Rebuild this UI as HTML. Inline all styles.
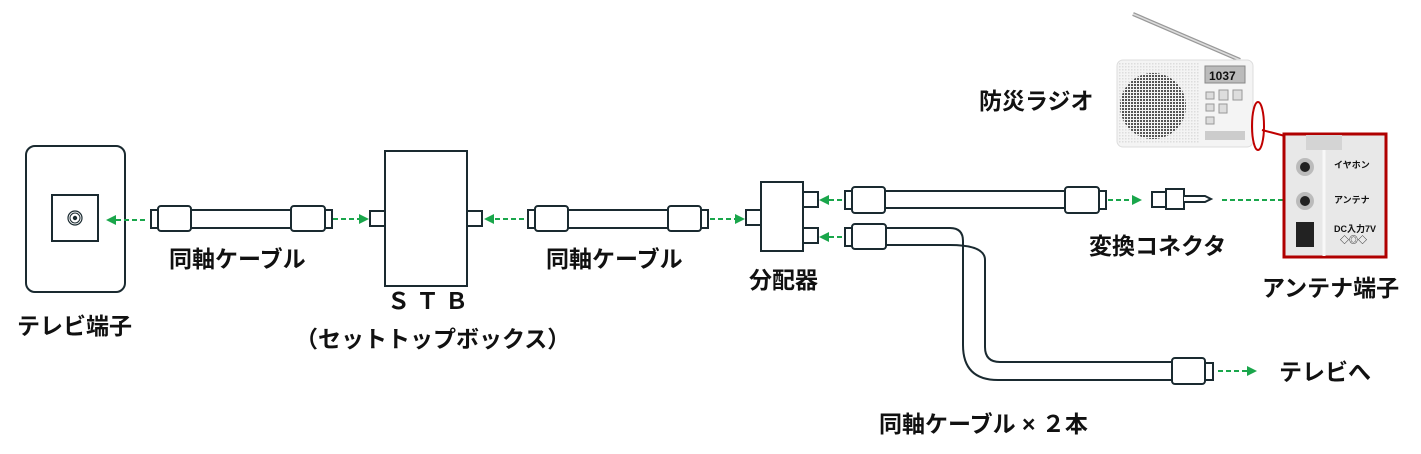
<!DOCTYPE html>
<html><head><meta charset="utf-8"><style>
html,body{margin:0;padding:0;background:#fff;}
svg{display:block;}
text{font-family:"Liberation Sans","Noto Sans CJK JP",sans-serif;font-weight:bold;fill:#111;}
</style></head><body>
<svg width="1421" height="454" viewBox="0 0 1421 454" xmlns="http://www.w3.org/2000/svg">
<defs>
<marker id="ar" markerWidth="5" markerHeight="5" refX="4" refY="2.5" orient="auto"><path d="M0,0 L5,2.5 L0,5 z" fill="#1aa64b"/></marker>
<pattern id="dots" width="3" height="3" patternUnits="userSpaceOnUse"><rect width="2" height="2" fill="#555"/></pattern>
<pattern id="dots2" width="3" height="3" patternUnits="userSpaceOnUse"><rect width="1.5" height="1.5" fill="#ddd"/></pattern>
</defs>
<g stroke="#1a2a30" stroke-width="2" fill="#fff">
<rect x="26" y="146" width="99" height="146" rx="9"/>
<rect x="52" y="195" width="46" height="46"/>
<circle cx="75" cy="218" r="7" stroke-width="1.2"/>
<circle cx="75" cy="218" r="5" stroke-width="1"/>
<circle cx="75" cy="218" r="1.2" fill="#111"/>
<rect x="151" y="210" width="8" height="18"/>
<rect x="191" y="210" width="100" height="18"/>
<rect x="158" y="206" width="33" height="25" rx="3"/>
<rect x="291" y="206" width="34" height="25" rx="3"/>
<rect x="325" y="210" width="7" height="18"/>
<rect x="370" y="211" width="15" height="15"/>
<rect x="467" y="211" width="15" height="15"/>
<rect x="385" y="151" width="82" height="135"/>
<rect x="528" y="210" width="8" height="18"/>
<rect x="568" y="210" width="100" height="18"/>
<rect x="535" y="206" width="33" height="25" rx="3"/>
<rect x="668" y="206" width="33" height="25" rx="3"/>
<rect x="701" y="210" width="7" height="18"/>
<rect x="746" y="210" width="15" height="15"/>
<rect x="803" y="192" width="15" height="15"/>
<rect x="803" y="228" width="15" height="15"/>
<rect x="761" y="182" width="42" height="69"/>
<rect x="845" y="191" width="8" height="18"/>
<rect x="885" y="191" width="180" height="17"/>
<rect x="852" y="187" width="33" height="26" rx="3"/>
<rect x="1065" y="187" width="34" height="26" rx="3"/>
<rect x="1099" y="191" width="7" height="18"/>
<rect x="1152" y="192" width="14" height="15"/>
<rect x="1166" y="189" width="18" height="20"/>
<path d="M1184,196 L1205,196 L1211,199 L1205,202 L1184,202" fill="#fff"/>
<path d="M886,228 L950,228 Q963,228 963,241 L963,345 Q963,380 998,380 L1172,380 L1172,362 L1000,362 Q985,362 985,347 L985,260 Q985,245 950,245 L886,245" />
<rect x="845" y="228" width="8" height="18"/>
<rect x="852" y="224" width="34" height="25" rx="3"/>
<rect x="1205" y="363" width="8" height="17"/>
<rect x="1172" y="358" width="33" height="26" rx="3"/>
</g>
<g stroke="#1aa64b" stroke-width="2" stroke-dasharray="5,3" fill="none" marker-end="url(#ar)">
<line x1="145" y1="220" x2="108" y2="220"/>
<line x1="333" y1="219" x2="367" y2="219"/>
<line x1="524" y1="219" x2="486" y2="219"/>
<line x1="710" y1="219" x2="743" y2="219"/>
<line x1="842" y1="200" x2="821" y2="200"/>
<line x1="842" y1="237" x2="821" y2="237"/>
<line x1="1108" y1="200" x2="1140" y2="200"/>
<line x1="1222" y1="200" x2="1295" y2="200"/>
<line x1="1218" y1="371" x2="1255" y2="371"/>
</g>
<g font-size="23">
<text x="169" y="267">同軸ケーブル</text>
<text x="546" y="267">同軸ケーブル</text>
<text x="17" y="334">テレビ端子</text>
<text x="387" y="309" letter-spacing="6">ＳＴＢ</text>
<text x="295" y="347">（セットトップボックス）</text>
<text x="749" y="288">分配器</text>
<text x="1089" y="254">変換コネクタ</text>
<text x="1262" y="296">アンテナ端子</text>
<text x="979" y="109">防災ラジオ</text>
<text x="1279" y="380">テレビへ</text>
<text x="879" y="432">同軸ケーブル × ２本</text>
</g>
<line x1="1133" y1="14" x2="1240" y2="60" stroke="#999" stroke-width="4"/>
<line x1="1133" y1="14" x2="1240" y2="60" stroke="#ddd" stroke-width="1.5"/>
<rect x="1117" y="60" width="136" height="87" rx="6" fill="#f4f4f4" stroke="#ddd"/>
<rect x="1119" y="62" width="80" height="82" fill="url(#dots2)"/>
<circle cx="1153" cy="106" r="33" fill="url(#dots)"/>
<rect x="1205" y="66" width="40" height="17" fill="#bbb" stroke="#888"/>
<text x="1209" y="80" font-size="12" font-weight="normal" fill="#222">1037</text>
<rect x="1206" y="92" width="8" height="7" fill="#ddd" stroke="#999"/>
<rect x="1219" y="90" width="9" height="10" fill="#ddd" stroke="#999"/>
<rect x="1233" y="90" width="9" height="10" fill="#ddd" stroke="#999"/>
<rect x="1206" y="104" width="8" height="7" fill="#ddd" stroke="#999"/>
<rect x="1206" y="117" width="8" height="7" fill="#ddd" stroke="#999"/>
<rect x="1219" y="104" width="8" height="9" fill="#ddd" stroke="#999"/>
<rect x="1205" y="131" width="40" height="9" fill="#ccc"/>
<ellipse cx="1258" cy="126" rx="6" ry="24" fill="none" stroke="#c00000" stroke-width="2"/>
<line x1="1262" y1="130" x2="1285" y2="136" stroke="#c00000" stroke-width="2"/>
<rect x="1284" y="134" width="102" height="123" fill="#e8e8e8" stroke="#b00000" stroke-width="3"/>
<rect x="1306" y="135" width="36" height="15" fill="#d4d4d4"/>
<line x1="1324" y1="150" x2="1324" y2="256" stroke="#f8f8f8" stroke-width="3"/>
<circle cx="1305" cy="167" r="9" fill="#bbb"/><circle cx="1305" cy="167" r="5" fill="#222"/>
<circle cx="1305" cy="201" r="9" fill="#bbb"/><circle cx="1305" cy="201" r="5" fill="#222"/>
<rect x="1296" y="222" width="18" height="25" fill="#222"/>
<g font-size="9" font-weight="normal"><text x="1334" y="168" fill="#333">イヤホン</text><text x="1334" y="203" fill="#333">アンテナ</text><text x="1334" y="232" fill="#333">DC入力7V</text><text x="1340" y="243" fill="#333">◇◎◇</text></g>
</svg>
</body></html>
